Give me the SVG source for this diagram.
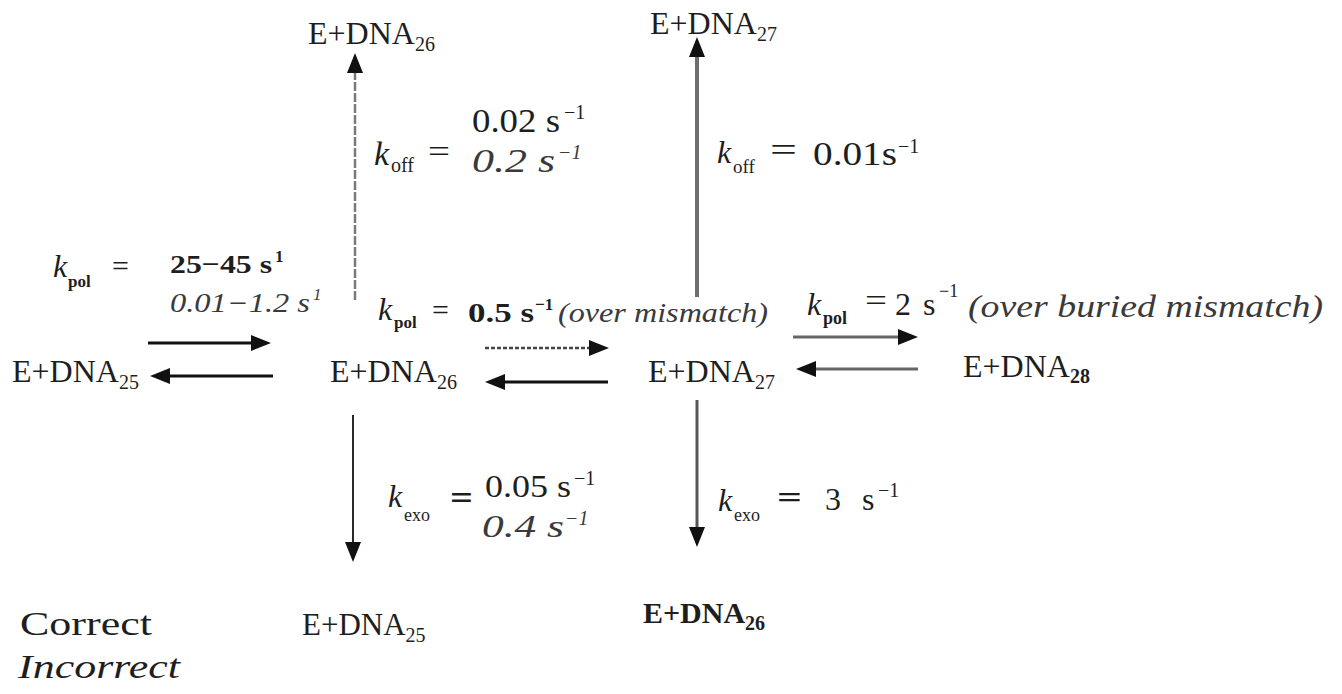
<svg xmlns="http://www.w3.org/2000/svg" width="1342" height="694" viewBox="0 0 1342 694">
<style>
.f{font-family:"Liberation Serif","Times New Roman",serif;fill:#1e1e1e}
.sp{font-size:32px}
.sb{font-size:20px}
.i{font-style:italic}
.b{font-weight:bold}
.g{fill:#3a3a3a}
.ln{fill:none}
</style>
<defs>
<marker id="ah" viewBox="0 0 20 16" refX="10" refY="8" markerWidth="20" markerHeight="16" markerUnits="userSpaceOnUse" orient="auto"><path d="M0,0 L20,8 L0,16 z" fill="#111"/></marker>
</defs>
<rect width="1342" height="694" fill="#fff"/>

<g id="connectors">
<path class="ln" d="M355,300 V63" stroke="#7a7a7a" stroke-width="2.5" stroke-dasharray="9 2" marker-end="url(#ah)"/>
<path class="ln" d="M697,297 V47" stroke="#6e6e6e" stroke-width="4" marker-end="url(#ah)"/>
<path class="ln" d="M353,415 V552" stroke="#111" stroke-width="1.8" marker-end="url(#ah)"/>
<path class="ln" d="M697,400 V537" stroke="#555" stroke-width="3" marker-end="url(#ah)"/>
<path class="ln" d="M148,343 H261" stroke="#111" stroke-width="3" marker-end="url(#ah)"/>
<path class="ln" d="M273,376 H160" stroke="#111" stroke-width="3" marker-end="url(#ah)"/>
<path class="ln" d="M485,348 H599" stroke="#444" stroke-width="2.5" stroke-dasharray="4 2" marker-end="url(#ah)"/>
<path class="ln" d="M608,382 H495" stroke="#111" stroke-width="3" marker-end="url(#ah)"/>
<path class="ln" d="M793,337 H908" stroke="#666" stroke-width="3" marker-end="url(#ah)"/>
<path class="ln" d="M918,369 H806" stroke="#666" stroke-width="3" marker-end="url(#ah)"/>
</g>

<g id="n-dna26-top"><text class="f sp" x="308" y="44">E+DNA<tspan class="sb" dy="7">26</tspan></text></g>
<g id="n-dna27-top"><text class="f sp" x="650" y="34">E+DNA<tspan class="sb" dy="7">27</tspan></text></g>
<g id="n-dna25-left"><text class="f sp" x="12" y="382">E+DNA<tspan class="sb" dy="7">25</tspan></text></g>
<g id="n-dna26-mid"><text class="f sp" x="330" y="382">E+DNA<tspan class="sb" dy="7">26</tspan></text></g>
<g id="n-dna27-mid"><text class="f sp" x="648" y="382">E+DNA<tspan class="sb" dy="7">27</tspan></text></g>
<g id="n-dna28"><text class="f sp" x="963" y="377">E+DNA<tspan class="sb b" dy="6">28</tspan></text></g>
<g id="n-dna25-bot"><text class="f" font-size="31" x="302" y="635">E+DNA<tspan class="sb" dy="7">25</tspan></text></g>
<g id="n-dna26-bot"><text class="f b" font-size="30" x="643" y="623">E+DNA<tspan class="sb" dy="7">26</tspan></text></g>

<g id="legend">
<text class="f" font-size="34" x="20" y="635" textLength="132" lengthAdjust="spacingAndGlyphs">Correct</text>
<text class="f i" font-size="34" x="18" y="678" textLength="162" lengthAdjust="spacingAndGlyphs">Incorrect</text>
</g>

<g id="rate-koff-left">
<text class="f i" font-size="34" x="374" y="165">k</text>
<text class="f" font-size="20" x="391" y="172">off</text>
<text class="f" font-size="32" x="428" y="162" textLength="22" lengthAdjust="spacingAndGlyphs">=</text>
<text class="f" font-size="33" x="472" y="132" textLength="88" lengthAdjust="spacingAndGlyphs">0.02 s</text>
<text class="f" font-size="20" x="564" y="119">−1</text>
<text class="f i g" font-size="33" x="472" y="172" textLength="83" lengthAdjust="spacingAndGlyphs">0.2  s</text>
<text class="f i g" font-size="20" x="558" y="159">−1</text>
</g>

<g id="rate-koff-right">
<text class="f i" font-size="32" x="717" y="163">k</text>
<text class="f" font-size="19" x="733" y="173">off</text>
<text class="f" font-size="34" x="770" y="161" textLength="27" lengthAdjust="spacingAndGlyphs">=</text>
<text class="f" font-size="34" x="813" y="165" textLength="84" lengthAdjust="spacingAndGlyphs">0.01s</text>
<text class="f" font-size="20" x="898" y="153">−1</text>
</g>

<g id="rate-kpol-left">
<text class="f i" font-size="32" x="53" y="277">k</text>
<text class="f b" font-size="17" x="68" y="287">pol</text>
<text class="f" font-size="30" x="112" y="276">=</text>
<text class="f b" font-size="26" x="170" y="273" textLength="102" lengthAdjust="spacingAndGlyphs">25−45 s</text>
<text class="f b" font-size="17" x="275" y="262">1</text>
<text class="f i g" font-size="27" x="170" y="312" textLength="140" lengthAdjust="spacingAndGlyphs">0.01−1.2 s</text>
<text class="f i g" font-size="17" x="313" y="300">1</text>
</g>

<g id="rate-kpol-mid">
<text class="f i" font-size="32" x="378" y="320">k</text>
<text class="f b" font-size="17" x="394" y="328">pol</text>
<text class="f" font-size="30" x="432" y="320">=</text>
<text class="f b" font-size="28" x="468" y="322" textLength="66" lengthAdjust="spacingAndGlyphs">0.5 s</text>
<text class="f b" font-size="17" x="535" y="310">−1</text>
<text class="f i g" font-size="28" x="558" y="322" textLength="210" lengthAdjust="spacingAndGlyphs">(over mismatch)</text>
</g>

<g id="rate-kpol-right">
<text class="f i" font-size="32" x="807" y="315">k</text>
<text class="f b" font-size="18" x="823" y="324">pol</text>
<text class="f" font-size="32" x="865" y="311" textLength="22" lengthAdjust="spacingAndGlyphs">=</text>
<text class="f" font-size="32" x="895" y="315">2</text>
<text class="f" font-size="32" x="923" y="315">s</text>
<text class="f" font-size="18" x="939" y="297">−1</text>
<text class="f i g" font-size="32" x="968" y="317" textLength="355" lengthAdjust="spacingAndGlyphs">(over buried mismatch)</text>
</g>

<g id="rate-kexo-left">
<text class="f i" font-size="32" x="388" y="507">k</text>
<text class="f" font-size="18" x="404" y="521">exo</text>
<text class="f b" font-size="34" x="450" y="509" textLength="23" lengthAdjust="spacingAndGlyphs">=</text>
<text class="f" font-size="32" x="485" y="497" textLength="86" lengthAdjust="spacingAndGlyphs">0.05 s</text>
<text class="f" font-size="20" x="574" y="485">−1</text>
<text class="f i g" font-size="32" x="482" y="537" textLength="82" lengthAdjust="spacingAndGlyphs">0.4 s</text>
<text class="f i g" font-size="20" x="565" y="525">−1</text>
</g>

<g id="rate-kexo-right">
<text class="f i" font-size="32" x="718" y="511">k</text>
<text class="f" font-size="18" x="734" y="521">exo</text>
<text class="f b" font-size="32" x="777" y="508" textLength="25" lengthAdjust="spacingAndGlyphs">=</text>
<text class="f" font-size="32" x="825" y="510">3</text>
<text class="f" font-size="32" x="862" y="510">s</text>
<text class="f" font-size="20" x="878" y="497">−1</text>
</g>
</svg>
